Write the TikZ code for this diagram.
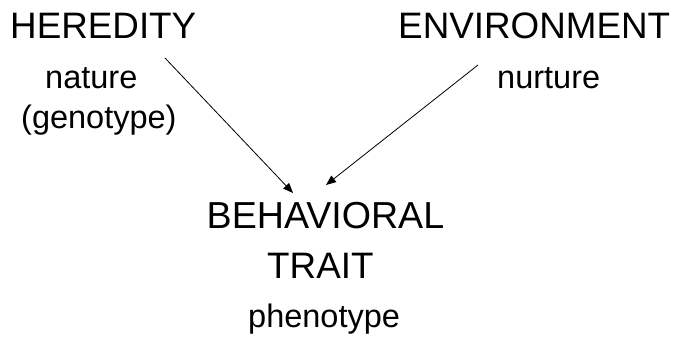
\documentclass[tikz,border=0pt]{standalone}
\usepackage{fontspec}
\setmainfont{Liberation Sans}
\usetikzlibrary{arrows.meta}
\tikzset{
  big/.style={anchor=base west, inner sep=0pt, font=\fontsize{36.8}{40}\selectfont},
  small/.style={anchor=base west, inner sep=0pt, font=\fontsize{32.5}{36}\selectfont},
  conn/.style={line width=0.8pt, -{Triangle[length=10pt,width=8pt]}}
}
\begin{document}
\begin{tikzpicture}[x=1pt,y=-1pt]
\useasboundingbox (0,0) rectangle (676,337);
\node[big] (her) at (10,38) {HEREDITY};
\node[big] (env) at (398,38) {ENVIRONMENT};
\node[small] (nat) at (45,88) {nature};
\node[small] (gen) at (21,128) {(genotype)};
\node[small] (nur) at (497,88) {nurture};
\node[big, font=\fontsize{37.6}{40}\selectfont] (beh) at (206.5,228) {BEHAVIORAL};
\node[big] (tra) at (267,278) {TRAIT};
\node[small] (phe) at (248,327) {phenotype};
\coordinate (hs) at (165,58);
\coordinate (ht) at (293,193);
\coordinate (es) at (478,65);
\coordinate (et) at (326,185);
\draw[conn] (hs) -- (ht);
\draw[conn] (es) -- (et);
\end{tikzpicture}
\end{document}
